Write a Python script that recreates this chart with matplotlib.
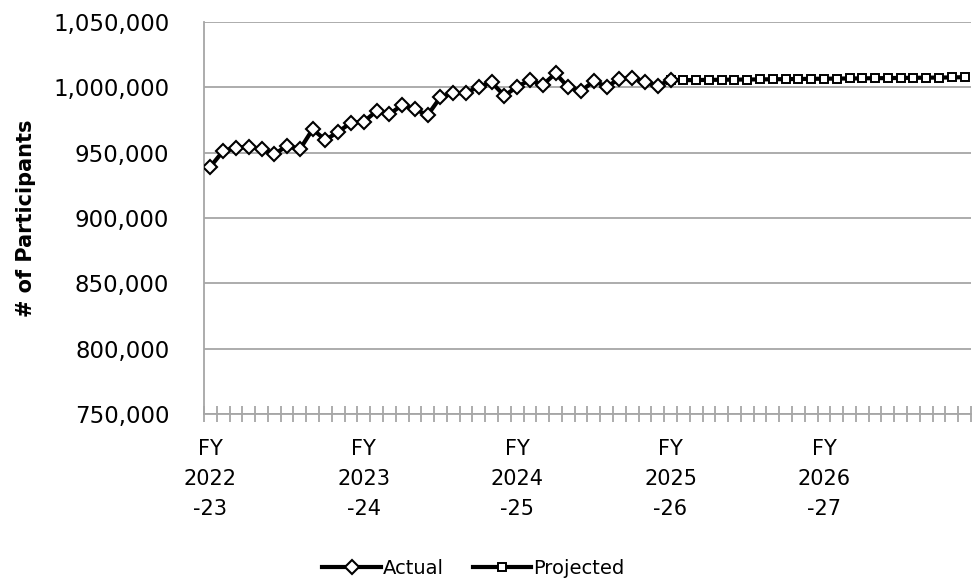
import matplotlib
matplotlib.use("Agg")
import matplotlib.pyplot as plt
import numpy as np
from matplotlib.ticker import FuncFormatter, FixedLocator

plt.rcParams['font.family'] = ['DejaVu Sans']

# Monthly participants, FY 2022-23 through FY 2026-27 (60 months)
fy_labels = ["FY\n2022\n-23", "FY\n2023\n-24", "FY\n2024\n-25", "FY\n2025\n-26", "FY\n2026\n-27"]

actual = [939300, 951300, 953800, 954600, 952800, 948800, 955300, 952600, 967900, 959700,
          966000, 972900, 973700, 981900, 979400, 986500, 983200, 978800, 992500, 995400,
          995800, 1000500, 1003800, 993600, 1000500, 1005600, 1001800, 1010700, 1000000, 997200,
          1004800, 1000500, 1006400, 1007400, 1004300, 1001200, 1005600]

# projected series starts on the last actual month so the line joins up
projected = [1005600, 1005500, 1005600, 1005700, 1005800, 1005900, 1006000, 1006100, 1006200,
             1006300, 1006400, 1006500, 1006600, 1006700, 1006800, 1006900, 1007000, 1007100,
             1007200, 1007300, 1007400, 1007500, 1007600, 1007800]

x_act = np.arange(len(actual))
x_proj = np.arange(len(actual) - 1, len(actual) - 1 + len(projected))
n_months = 60

fig = plt.figure(figsize=(9.72, 5.84), dpi=100)
ax = fig.add_axes([0.2099, 0.2911, 0.789, 0.6712])

grid_c = '#A6A6A6'

ax.plot(x_proj, projected, color='black', lw=3, marker='s', ms=5.2,
        mfc='white', mec='black', mew=1.4, label='Projected', zorder=3)
ax.plot(x_act, actual, color='black', lw=3, marker='D', ms=6.8,
        mfc='white', mec='black', mew=1.5, label='Actual', zorder=4)

ax.set_xlim(-0.5, n_months - 0.5)
ax.set_ylim(750000, 1050000)
ax.set_yticks(np.arange(750000, 1050001, 50000))
ax.yaxis.set_major_formatter(FuncFormatter(lambda v, p: f"{int(v):,}"))
ax.yaxis.grid(True, color=grid_c, lw=1.3)
ax.set_axisbelow(True)

# year labels on first month of each FY, monthly ticks between categories
ax.set_xticks(np.arange(0, n_months, 12))
ax.set_xticklabels(fy_labels, linespacing=1.62)
ax.xaxis.set_minor_locator(FixedLocator(np.arange(-0.5, n_months, 1)))
ax.tick_params(axis='x', which='major', length=0, pad=18, labelsize=15)
ax.tick_params(axis='x', which='minor', direction='inout', length=12, width=1.3, color=grid_c)
ax.tick_params(axis='y', length=0, pad=25, labelsize=16.5)

for s in ['top', 'right']:
    ax.spines[s].set_visible(False)
for s in ['left', 'bottom']:
    ax.spines[s].set_color(grid_c)
    ax.spines[s].set_linewidth(1.3)

ax.set_ylabel("# of Participants", fontsize=15, fontweight='bold', labelpad=12)

handles, labels = ax.get_legend_handles_labels()
fig.legend(handles[::-1], labels[::-1], loc='center', bbox_to_anchor=(0.487, 0.027),
           ncol=2, frameon=False, fontsize=14, handlelength=3.0,
           handletextpad=0.1, columnspacing=1.5)

plt.savefig("out.png", dpi=100)
